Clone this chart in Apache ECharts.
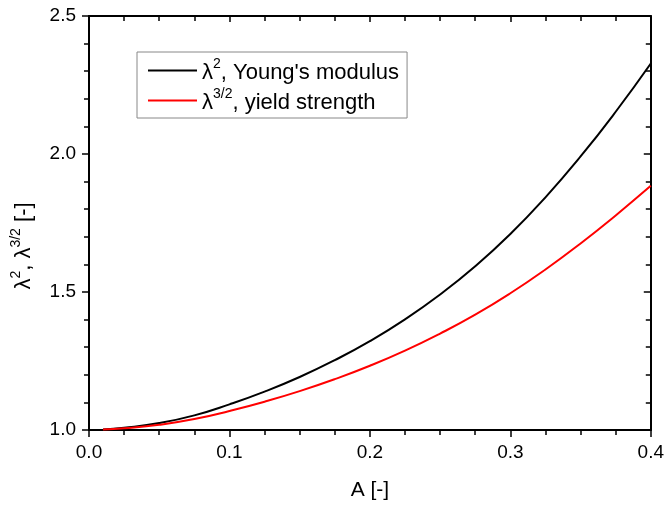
<!DOCTYPE html>
<html>
<head>
<meta charset="utf-8">
<script src="https://cdn.jsdelivr.net/npm/echarts@6/dist/echarts.min.js"></script>
<style>html,body{margin:0;padding:0;background:#fff}#c{width:667px;height:506px}</style>
</head>
<body>
<div id="c"></div>
<script>
var A = [0.01,0.025,0.05,0.075,0.1,0.125,0.15,0.175,0.2,0.225,0.25,0.275,0.3,0.325,0.35,0.375,0.4];
var youngs = [1.002,1.008,1.025,1.053,1.093,1.139,1.192,1.253,1.322,1.401,1.491,1.593,1.710,1.843,1.991,2.153,2.328];
var yieldS = [1.0015,1.006,1.0187,1.0395,1.0689,1.1026,1.1408,1.1842,1.2328,1.2876,1.3494,1.4179,1.4954,1.5817,1.6760,1.7775,1.8846];
var xTicks = [0.0,0.1,0.2,0.3,0.4];
var yTicks = [1.0,1.5,2.0,2.5];

var FONT = 'Liberation Sans';
function pairs(xs, ys){ return xs.map(function(x,i){return [x, ys[i]];}); }
function richOf(big, small, lh){
  return {
    a: {fontFamily: FONT, fontSize: big, color: '#000', lineHeight: lh, verticalAlign: 'bottom'},
    s: {fontFamily: FONT, fontSize: small, color: '#000', lineHeight: small + 1, verticalAlign: 'top'}
  };
}
var chart = echarts.init(document.getElementById('c'), null, {renderer: 'canvas'});
var axisLine = {show: true, onZero: false, lineStyle: {color: '#000', width: 2}};
chart.setOption({
  animation: false,
  backgroundColor: '#fff',
  grid: {left: 89, right: 13, top: 16, bottom: 70, containLabel: false},
  legend: {
    left: 137, top: 52, orient: 'vertical',
    icon: 'rect', itemWidth: 49, itemHeight: 2, itemGap: 3,
    borderColor: '#888', borderWidth: 1, padding: [5, 8, 4, 11],
    data: ['y', 'r'],
    formatter: function(n){
      return n === 'y' ? '{a|λ}{s|2}{a|, Young\'s modulus}' : '{a|λ}{s|3/2}{a|, yield strength}';
    },
    textStyle: {rich: richOf(22, 14, 27), fontFamily: FONT, fontSize: 22}
  },
  xAxis: [{
    type: 'value', min: 0, max: 0.4, interval: 0.1, position: 'bottom',
    name: 'A [-]', nameLocation: 'middle', nameGap: 50,
    nameTextStyle: {fontFamily: FONT, fontSize: 21, color: '#000'},
    axisLine: axisLine, splitLine: {show: false},
    axisTick: {show: true, inside: false, length: 7, lineStyle: {color: '#000', width: 1.5}},
    minorTick: {show: true, splitNumber: 4, length: 5, lineStyle: {color: '#000', width: 1.5}},
    axisLabel: {fontFamily: FONT, fontSize: 19, color: '#000', margin: 13,
      formatter: function(v){ return xTicks.indexOf(+v.toFixed(2)) >= 0 ? v.toFixed(1) : ''; }}
  }, {
    type: 'value', min: 0, max: 0.4, interval: 0.1, position: 'top',
    axisLine: axisLine, splitLine: {show: false},
    axisTick: {show: true, inside: true, length: 6, lineStyle: {color: '#000', width: 1.5}},
    minorTick: {show: true, splitNumber: 4, length: 5, lineStyle: {color: '#000', width: 1.5}},
    axisLabel: {show: false}
  }],
  yAxis: [{
    type: 'value', min: 1, max: 2.5, interval: 0.5, position: 'left',
    name: '{a|λ}{s|2}{a|, λ}{s|3/2}{a| [-]}', nameLocation: 'middle', nameGap: 54, nameRotate: 90,
    nameTextStyle: {rich: richOf(22, 14, 26), fontFamily: FONT, fontSize: 22, padding: [0, 46, 0, 0]},
    axisLine: axisLine, splitLine: {show: false},
    axisTick: {show: true, inside: false, length: 7, lineStyle: {color: '#000', width: 1.5}},
    minorTick: {show: true, splitNumber: 5, length: 5, lineStyle: {color: '#000', width: 1.5}},
    axisLabel: {fontFamily: FONT, fontSize: 19, color: '#000', margin: 13,
      formatter: function(v){ return yTicks.indexOf(+v.toFixed(2)) >= 0 ? v.toFixed(1) : ''; }}
  }, {
    type: 'value', min: 1, max: 2.5, interval: 0.5, position: 'right',
    axisLine: axisLine, splitLine: {show: false},
    axisTick: {show: true, inside: true, length: 7, lineStyle: {color: '#000', width: 1.5}},
    minorTick: {show: true, splitNumber: 5, length: 5, lineStyle: {color: '#000', width: 1.5}},
    axisLabel: {show: false}
  }],
  series: [{
    name: 'y', type: 'line', smooth: true, showSymbol: false, symbol: 'none',
    data: pairs(A, youngs), lineStyle: {color: '#000', width: 2}, itemStyle: {color: '#000'}
  }, {
    name: 'r', type: 'line', smooth: true, showSymbol: false, symbol: 'none',
    data: pairs(A, yieldS), lineStyle: {color: '#ff0000', width: 2}, itemStyle: {color: '#ff0000'}
  }]
});
</script>
</body>
</html>
